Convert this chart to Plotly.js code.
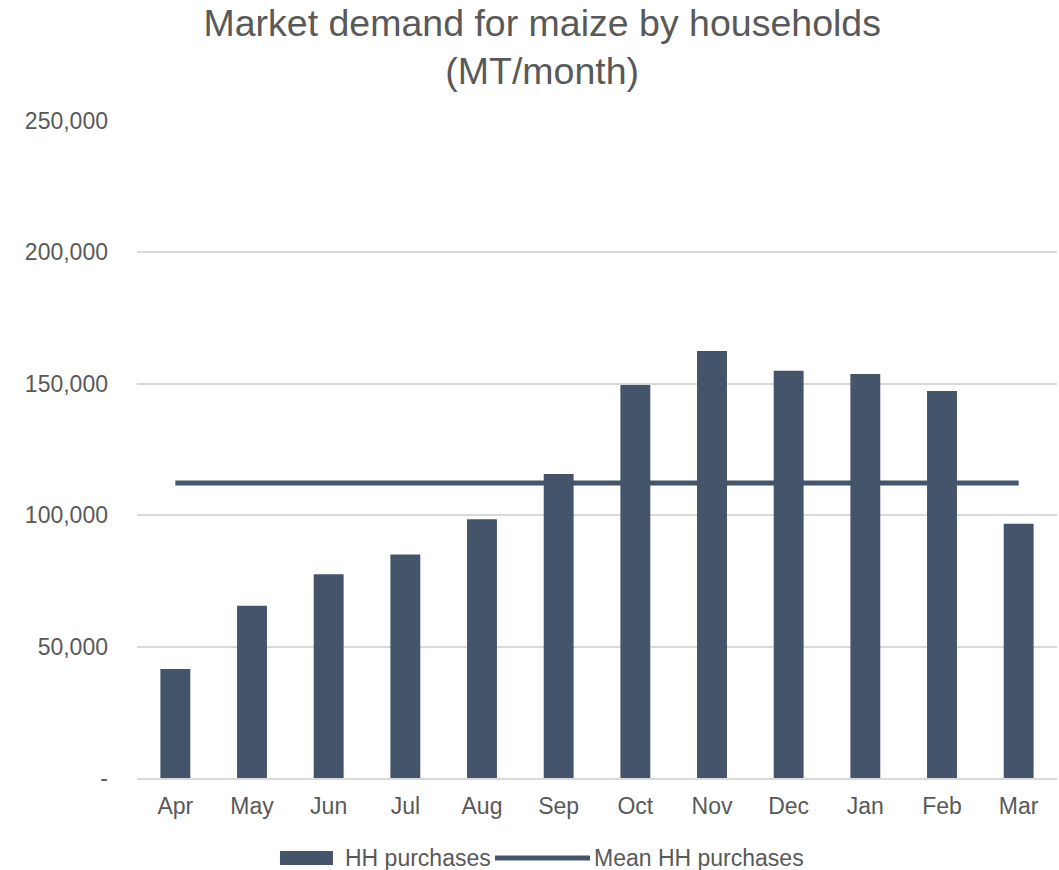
<!DOCTYPE html>
<html>
<head>
<meta charset="utf-8">
<script src="https://cdn.plot.ly/plotly-3.0.1.min.js"></script>
<style>html,body{margin:0;padding:0;background:#fff;}#chart{width:1059px;height:870px;}</style>
</head>
<body>
<div id="chart"></div>
<script>
const months = ["Apr","May","Jun","Jul","Aug","Sep","Oct","Nov","Dec","Jan","Feb","Mar"];
const hhPurchases = [41500, 65500, 77500, 85000, 98500, 115700, 149500, 162500, 155000, 153700, 147300, 96700];
const meanHH = 112300;
const meanLine = months.map(() => meanHH);
const yTickVals = [0, 50000, 100000, 150000, 200000, 250000];
const yTickText = ["-", "50,000", "100,000", "150,000", "200,000", "250,000"];
const seriesNames = ["HH purchases", "Mean HH purchases"];

const color = "#44546A";
const txt = "#595959";
const fam = "Liberation Sans, Arial, sans-serif";

Plotly.newPlot("chart", [
  {type: "bar", x: months, y: hhPurchases, name: seriesNames[0], marker: {color: color}},
  {type: "scatter", mode: "lines", x: months, y: meanLine, name: seriesNames[1],
   line: {color: color, width: 5}}
], {
  width: 1059, height: 870,
  margin: {l: 137, r: 2, t: 121, b: 92},
  paper_bgcolor: "#fff", plot_bgcolor: "#fff",
  font: {family: fam, color: txt},
  title: {text: "Market demand for maize by households<br>(MT/month)", x: 0.512, xanchor: "center",
          y: 0.959, yanchor: "middle", font: {family: fam, size: 37.5, color: txt}},
  bargap: 0.61,
  showlegend: false,
  xaxis: {type: "category", tickfont: {size: 23, color: txt}, showgrid: false,
          showline: true, linecolor: "#d9d9d9", linewidth: 2, ticks: "", ticklabelstandoff: 6},
  yaxis: {range: [0, 250000], tickvals: yTickVals, ticktext: yTickText, tickfont: {size: 23, color: txt},
          gridcolor: "#d9d9d9", gridwidth: 2, zeroline: false, ticks: "", ticklabelstandoff: 28},
  shapes: [
    {type: "rect", xref: "paper", yref: "paper", x0: 0.1554, x1: 0.2130, y0: -0.1324, y1: -0.1111,
     fillcolor: color, line: {width: 0}},
    {type: "line", xref: "paper", yref: "paper", x0: 0.3891, x1: 0.4924, y0: -0.1218, y1: -0.1218,
     line: {color: color, width: 5}}
  ],
  annotations: [
    {xref: "paper", yref: "paper", x: 0.2239, y: -0.1218, xanchor: "left", yanchor: "middle",
     text: seriesNames[0], showarrow: false, font: {size: 23, color: txt}},
    {xref: "paper", yref: "paper", x: 0.4946, y: -0.1218, xanchor: "left", yanchor: "middle",
     text: seriesNames[1], showarrow: false, font: {size: 23, color: txt}}
  ]
}, {displayModeBar: false});
</script>
</body>
</html>
